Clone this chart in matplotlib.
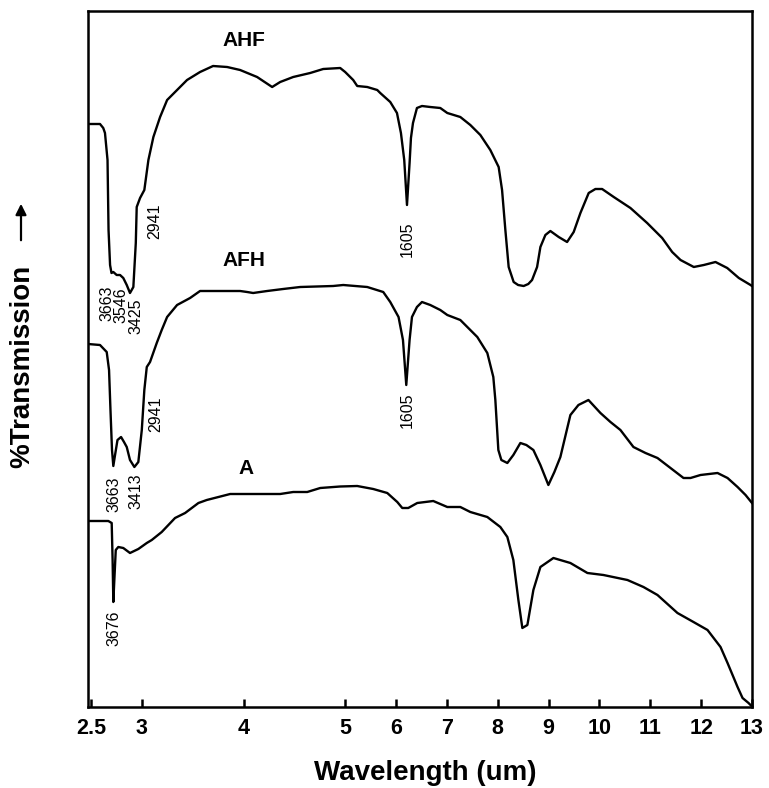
import numpy as np
import matplotlib
matplotlib.use("Agg")
import matplotlib.pyplot as plt

plt.rcParams['font.family'] = ['Liberation Sans', 'DejaVu Sans']

# ---------------- data (wavelength in um, transmission in arbitrary units) -------------
ahf_wl = [2.47, 2.588, 2.62, 2.637, 2.662, 2.672, 2.687, 2.701, 2.719, 2.752, 2.785, 2.817, 2.851,
          2.883, 2.916, 2.940, 2.949, 2.982, 3.024, 3.064, 3.113, 3.179, 3.248, 3.346, 3.444,
          3.572, 3.700, 3.838, 3.966, 4.133, 4.281, 4.360, 4.488, 4.655, 4.783, 4.950, 4.999,
          5.156, 5.235, 5.432, 5.629, 5.688, 5.885, 6.017, 6.095, 6.160, 6.214, 6.265, 6.292,
          6.332, 6.410, 6.509, 6.672, 6.869, 7.007, 7.263, 7.460, 7.657, 7.853, 8.017, 8.084,
          8.149, 8.214, 8.312, 8.40, 8.509, 8.60, 8.674, 8.773, 8.838, 8.936, 9.034, 9.198,
          9.363, 9.493, 9.625, 9.788, 9.920, 10.052, 10.281, 10.609, 10.938, 11.233, 11.430,
          11.594, 11.855, 12.052, 12.282, 12.513, 12.741, 12.971, 13.0]
ahf_t = [583, 583, 579, 574, 547, 477, 442, 434, 435, 432, 432, 429, 422,
         414, 420, 464, 500, 509, 517, 547, 570, 590, 607, 617, 627,
         635, 641, 640, 637, 630, 620, 625, 630, 634, 638, 639, 635,
         627, 621, 620, 617, 614, 605, 594, 574, 547, 502, 544, 569,
         584, 599, 601, 600, 599, 594, 590, 582, 572, 557, 540, 517,
         477, 440, 425, 422, 421, 423, 427, 440, 460, 472, 476, 470,
         465, 475, 494, 514, 518, 518, 510, 499, 484, 469, 455,
         447, 440, 442, 445, 439, 429, 422, 421]

afh_wl = [2.47, 2.588, 2.654, 2.677, 2.691, 2.706, 2.719, 2.736, 2.760, 2.795, 2.824, 2.851,
          2.883, 2.926, 2.965, 2.999, 3.024, 3.048, 3.080, 3.146, 3.195, 3.248, 3.346, 3.474,
          3.572, 3.966, 4.035, 4.094, 4.163, 4.232, 4.389, 4.557, 4.881, 4.980, 5.432, 5.747,
          5.885, 6.048, 6.135, 6.200, 6.265, 6.312, 6.410, 6.509, 6.672, 6.869, 7.007, 7.263,
          7.597, 7.794, 7.912, 7.952, 8.011, 8.070, 8.188, 8.306, 8.444, 8.562, 8.700, 8.838,
          8.995, 9.113, 9.231, 9.428, 9.586, 9.783, 10.019, 10.216, 10.412, 10.668, 10.905,
          11.141, 11.397, 11.653, 11.791, 11.987, 12.322, 12.519, 12.716, 12.873, 13.0]
afh_t = [363, 362, 355, 337, 297, 257, 241, 252, 267, 270, 265, 260,
         247, 240, 245, 277, 317, 340, 345, 364, 377, 390, 402, 409,
         416, 416, 415, 414, 415, 416, 418, 420, 421, 422, 420, 415,
         405, 390, 367, 322, 367, 390, 400, 405, 402, 397, 392, 387,
         370, 354, 330, 307, 257, 247, 244, 252, 264, 262, 257, 242,
         222, 235, 250, 292, 302, 307, 294, 285, 277, 260, 254,
         249, 239, 229, 229, 232, 234, 229, 220, 212, 204]

a_wl = [2.47, 2.670, 2.703, 2.712, 2.719, 2.729, 2.743, 2.768, 2.817, 2.883, 2.965, 3.048,
        3.097, 3.195, 3.326, 3.425, 3.556, 3.638, 3.868, 4.360, 4.488, 4.626, 4.754, 4.950,
        5.235, 5.550, 5.826, 6.023, 6.121, 6.239, 6.416, 6.731, 7.007, 7.263, 7.460, 7.794,
        8.050, 8.188, 8.306, 8.405, 8.483, 8.582, 8.700, 8.838, 9.094, 9.428, 9.763, 10.078,
        10.550, 10.865, 11.141, 11.534, 11.849, 12.125, 12.381, 12.519, 12.716, 12.814,
        12.932, 12.99]
a_t = [186, 186, 184, 147, 105, 127, 157, 160, 159, 154, 158, 164,
       167, 175, 189, 194, 204, 207, 213, 213, 215, 215, 219, 220.5,
       221, 218, 214, 205, 199, 199, 204, 206, 200, 200, 195, 190,
       180, 170, 147, 107, 79, 82, 117, 140, 149, 144, 134, 132,
       127, 120, 112, 94, 85, 77, 60, 44, 20, 9,
       4, 1]

series_names = ["AHF", "AFH", "A"]
name_pos_wl = [4.0, 4.0, 4.02]
name_pos_t = [667, 447, 238]

peak_labels = ["3663", "3546", "3425", "2941", "1605",
               "1605", "2941", "3663", "3413", "3676"]
peak_wl = [2.657, 2.795, 2.942, 3.129, 6.219,
           6.219, 3.139, 2.726, 2.942, 2.726]
peak_t = [404, 402, 391, 486, 468,
          297, 293, 213, 216, 79]

xticks = [2.5, 3, 4, 5, 6, 7, 8, 9, 10, 11, 12, 13]
xtick_labels = ["2.5", "3", "4", "5", "6", "7", "8", "9", "10", "11", "12", "13"]

# ---------------- figure -------------
W, H = 769, 788
fig = plt.figure(figsize=(W / 100, H / 100), dpi=100)
ax = fig.add_axes([88 / W, 1 - 707 / H, (752 - 88) / W, (707 - 11) / H])


def fwd(x):
    x = np.asarray(x, dtype=float)
    return np.where(x <= 5, x, 5 + (x - 5) / 2.0)


def inv(t):
    t = np.asarray(t, dtype=float)
    return np.where(t <= 5, t, 5 + 2.0 * (t - 5))


ax.set_xscale('function', functions=(fwd, inv))

for wl, t in [(ahf_wl, ahf_t), (afh_wl, afh_t), (a_wl, a_t)]:
    ax.plot(wl, t, color='black', lw=1.7, solid_joinstyle='round')

ax.set_xlim(2.47, 13.0)
ax.set_ylim(0, 696)

ax.set_xticks(xticks)
ax.set_xticklabels(xtick_labels, fontsize=15.5, fontweight='bold')
ax.xaxis.set_minor_locator(matplotlib.ticker.NullLocator())
ax.tick_params(axis='x', direction='in', length=6, width=1.8, pad=8)
ax.set_yticks([])

for s in ax.spines.values():
    s.set_linewidth(1.8)

for n, x, y in zip(series_names, name_pos_wl, name_pos_t):
    ax.text(x, y, n, fontsize=15, fontweight='bold', ha='center', va='center')

for lab, x, y in zip(peak_labels, peak_wl, peak_t):
    ax.text(x, y, lab, fontsize=11.5, rotation=90, ha='center', va='center')

fig.text(425 / W, 1 - 773 / H, "Wavelength (um)", fontsize=20, fontweight='bold',
         ha='center', va='center')
fig.text(22 / W, 1 - 366 / H, "%Transmission", fontsize=20, fontweight='bold',
         rotation=90, ha='center', va='center')
fig.add_artist(matplotlib.patches.FancyArrowPatch(
    (21 / W, 1 - 243 / H), (21 / W, 1 - 201 / H), transform=fig.transFigure,
    arrowstyle='-|>', mutation_scale=16, lw=1.6, color='black'))

fig.savefig("out.png", dpi=100)
